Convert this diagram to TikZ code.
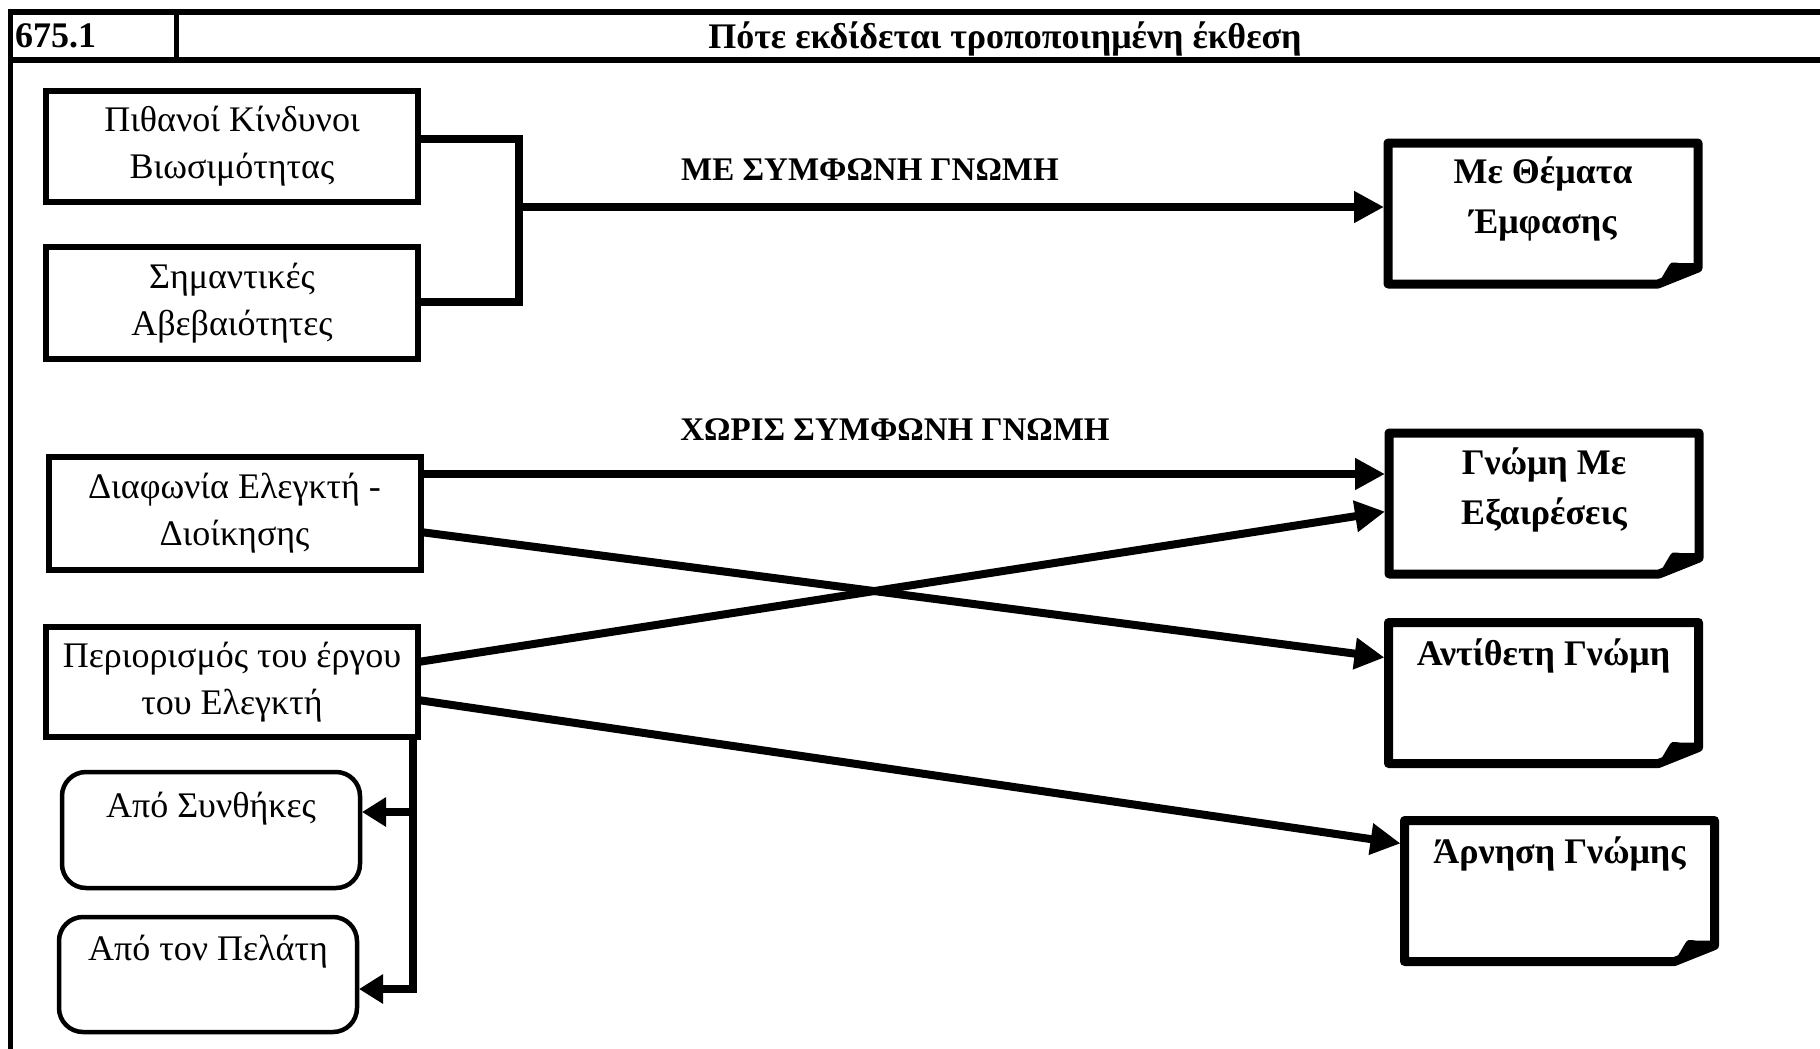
\documentclass[tikz,border=0pt]{standalone}
\usepackage{fontspec}
\setmainfont{Liberation Serif}
\usetikzlibrary{arrows.meta,calc}
\newcommand\foldbox[1]{%
 \draw[fold] (#1.north west) -- (#1.north east) -- ($(#1.south east)+(0,-16)$) -- ($(#1.south east)+(-40,0)$) -- (#1.south west) -- cycle;
 \fill ($(#1.south east)+(-40,0)$) -- ($(#1.south east)+(-30,-17)$) .. controls ($(#1.south east)+(-27,-22)$) .. ($(#1.south east)+(-19,-21)$) -- ($(#1.south east)+(0,-21)$) -- ($(#1.south east)+(0,-16)$) -- cycle;
}
\begin{document}
\begin{tikzpicture}[x=1pt,y=-1pt,
  every node/.style={inner sep=0pt, outer sep=0pt},
  txt/.style={font=\fontsize{36}{47}\selectfont, align=center},
  btxt/.style={font=\fontsize{36}{50}\selectfont\bfseries, align=center},
  ltxt/.style={font=\fontsize{33}{40}\selectfont\bfseries},
  lbox/.style={draw, line width=6pt, minimum width=372pt, txt},
  rbox/.style={draw, line width=4.5pt, rounded corners=24pt},
  spot/.style={minimum width=310pt, minimum height=141pt},
  fold/.style={line width=9pt, line join=round, fill=white},
  link/.style={line width=8pt},
  conn/.style={line width=8pt, shorten >=4pt, -{Triangle[length=30pt,width=30pt]}},
  conn2/.style={line width=8pt, shorten >=2pt, -{Triangle[length=24pt,width=28pt]}},
]
\useasboundingbox (0,0) rectangle (1820,1049);
\fill[white] (0,0) rectangle (1820,1049);
% frame
\draw[line width=6pt] (10,12) -- (1820,12);
\draw[line width=6pt] (10,60) -- (1820,60);
\draw[line width=5pt] (10,9) -- (10,1049);
\draw[line width=5pt] (176,12) -- (176,60);
\node[btxt, anchor=west] (num) at (15,36) {675.1};
\node[btxt] (title) at (1005,39) {Πότε εκδίδεται τροποποιημένη έκθεση};
% left boxes
\node[lbox, minimum height=111pt] (b1) at (232,146.5) {Πιθανοί Κίνδυνοι\\Βιωσιμότητας};
\node[lbox, minimum height=112pt] (b2) at (232,303) {Σημαντικές\\Αβεβαιότητες};
\node[lbox, minimum height=113pt] (b3) at (234.5,513.5) {Διαφωνία Ελεγκτή -\\Διοίκησης};
\node[lbox, minimum height=110pt] (b4) at (232,682) {Περιορισμός του έργου\\του Ελεγκτή};
% rounded boxes
\node[rbox, minimum width=298pt, minimum height=116pt] (c1) at (211,830) {};
\node[txt, anchor=north] (c1t) at ($(c1.north)+(0,20)$) {Από Συνθήκες};
\node[rbox, minimum width=298pt, minimum height=115pt] (c2) at (208,974.5) {};
\node[txt, anchor=north] (c2t) at ($(c2.north)+(0,18)$) {Από τον Πελάτη};
% right boxes
\node[spot] (r1) at (1543,213.5) {};
\node[spot] (r2) at (1544,503.5) {};
\node[spot] (r3) at (1543.5,693) {};
\node[spot] (r4) at (1559.5,891) {};
\foldbox{r1}\foldbox{r2}\foldbox{r3}\foldbox{r4}
\node[btxt, anchor=north] (r1t) at ($(r1.north)+(0,14)$) {Με Θέματα\\Έμφασης};
\node[btxt, anchor=north] (r2t) at ($(r2.north)+(0,15)$) {Γνώμη Με\\Εξαιρέσεις};
\node[btxt, anchor=north] (r3t) at ($(r3.north)+(0,16)$) {Αντίθετη Γνώμη};
\node[btxt, anchor=north] (r4t) at ($(r4.north)+(0,16)$) {Άρνηση Γνώμης};
% labels
\node[ltxt] (l1) at (870,170) {ΜΕ ΣΥΜΦΩΝΗ ΓΝΩΜΗ};
\node[ltxt] (l2) at (895,430) {ΧΩΡΙΣ ΣΥΜΦΩΝΗ ΓΝΩΜΗ};
% connectors
\coordinate (j) at (519,207);
\draw[link] (b1.east |- 0,139) -| (j) |- (b2.east |- 0,302);
\draw[conn] (j) -- (r1.west |- j);
\draw[conn] (b3.east |- 0,474) -- (r2.west |- 0,474);
\draw[conn] (b3.east |- 0,532) -- (r3.west |- 0,658);
\draw[conn] (b4.east |- 0,662) -- (r2.west |- 0,511);
\draw[conn] (b4.east |- 0,700) -- (r4.west |- 0,844);
\coordinate (v1) at (413,812);
\coordinate (v2) at (413,989);
\draw[conn2] (b4.south -| v1) -- (v2) -- (c2.east |- v2);
\draw[conn2] (v1) -- (c1.east |- v1);
\end{tikzpicture}
\end{document}
